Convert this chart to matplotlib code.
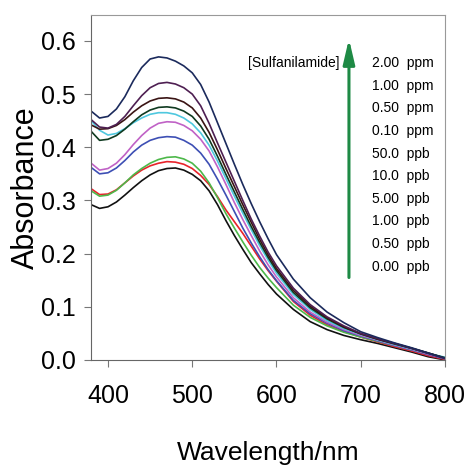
#absorbance spectra of sulfanilamide series

#libraries
import numpy as np
import matplotlib
matplotlib.use('Agg')
from matplotlib import pyplot as plt

#####################################data
wavelength = [380, 390, 400, 410, 420, 430, 440, 450, 460, 470, 480, 490, 500,
              510, 520, 530, 540, 550, 560, 570, 580, 590, 600,
              620, 640, 660, 680, 700, 720, 740, 760, 780, 800]

labels = ['0.00  ppb', '0.50  ppb', '1.00  ppb', '5.00  ppb', '10.0  ppb',
          '50.0  ppb', '0.10  ppm', '0.50  ppm', '1.00  ppm', '2.00  ppm']

abs_000ppb = [0.292, 0.285, 0.288, 0.297, 0.310, 0.324, 0.337, 0.348, 0.356, 0.360, 0.361, 0.357, 0.349,
              0.337, 0.318, 0.292, 0.262, 0.234, 0.208, 0.183, 0.162, 0.142, 0.124,
              0.095, 0.072, 0.057, 0.046, 0.038, 0.031, 0.023, 0.015, 0.006, 0.000]
abs_050ppb = [0.322, 0.311, 0.312, 0.320, 0.333, 0.346, 0.357, 0.365, 0.370, 0.373, 0.372, 0.368, 0.360,
              0.347, 0.330, 0.307, 0.282, 0.260, 0.238, 0.214, 0.190, 0.168, 0.148,
              0.110, 0.084, 0.066, 0.053, 0.043, 0.034, 0.025, 0.017, 0.008, 0.001]
abs_100ppb = [0.318, 0.308, 0.310, 0.319, 0.333, 0.348, 0.360, 0.370, 0.377, 0.381, 0.382, 0.378, 0.370,
              0.355, 0.333, 0.305, 0.275, 0.248, 0.222, 0.197, 0.174, 0.154, 0.136,
              0.103, 0.080, 0.064, 0.052, 0.043, 0.035, 0.027, 0.019, 0.011, 0.004]
abs_500ppb = [0.362, 0.350, 0.352, 0.361, 0.375, 0.391, 0.404, 0.413, 0.418, 0.420, 0.419, 0.413, 0.404,
              0.389, 0.368, 0.340, 0.310, 0.279, 0.248, 0.220, 0.194, 0.170, 0.149,
              0.112, 0.087, 0.069, 0.055, 0.045, 0.036, 0.027, 0.019, 0.010, 0.002]
abs_10ppb = [0.370, 0.357, 0.360, 0.370, 0.386, 0.405, 0.422, 0.436, 0.445, 0.448, 0.447, 0.441, 0.431,
             0.415, 0.393, 0.363, 0.330, 0.296, 0.264, 0.234, 0.205, 0.179, 0.156,
             0.117, 0.090, 0.071, 0.057, 0.046, 0.037, 0.028, 0.020, 0.011, 0.003]
abs_50ppb = [0.450, 0.432, 0.423, 0.426, 0.435, 0.446, 0.455, 0.462, 0.465, 0.465, 0.462, 0.455, 0.444,
             0.427, 0.404, 0.374, 0.341, 0.308, 0.276, 0.245, 0.215, 0.188, 0.163,
             0.123, 0.095, 0.074, 0.059, 0.048, 0.038, 0.029, 0.021, 0.012, 0.005]
abs_010ppm = [0.430, 0.413, 0.415, 0.422, 0.434, 0.448, 0.461, 0.470, 0.475, 0.476, 0.474, 0.468, 0.458,
              0.440, 0.415, 0.383, 0.349, 0.316, 0.283, 0.251, 0.221, 0.193, 0.168,
              0.127, 0.098, 0.077, 0.061, 0.049, 0.039, 0.030, 0.022, 0.013, 0.004]
abs_050ppm = [0.442, 0.434, 0.435, 0.441, 0.452, 0.466, 0.478, 0.487, 0.492, 0.493, 0.491, 0.485, 0.474,
              0.455, 0.428, 0.395, 0.360, 0.326, 0.292, 0.259, 0.227, 0.198, 0.172,
              0.131, 0.101, 0.079, 0.062, 0.049, 0.039, 0.031, 0.022, 0.013, 0.003]
abs_100ppm = [0.452, 0.438, 0.436, 0.443, 0.458, 0.478, 0.497, 0.512, 0.520, 0.522, 0.519, 0.512, 0.500,
              0.478, 0.445, 0.408, 0.372, 0.336, 0.300, 0.265, 0.233, 0.203, 0.177,
              0.135, 0.104, 0.081, 0.064, 0.050, 0.040, 0.031, 0.022, 0.012, 0.003]
abs_200ppm = [0.468, 0.455, 0.458, 0.472, 0.495, 0.525, 0.550, 0.566, 0.570, 0.568, 0.562, 0.553, 0.540,
              0.518, 0.485, 0.446, 0.407, 0.368, 0.330, 0.294, 0.260, 0.228, 0.198,
              0.152, 0.117, 0.090, 0.070, 0.053, 0.042, 0.032, 0.023, 0.013, 0.003]

spectra = [abs_000ppb, abs_050ppb, abs_100ppb, abs_500ppb, abs_10ppb,
           abs_50ppb, abs_010ppm, abs_050ppm, abs_100ppm, abs_200ppm]
colors = ['#111111', '#e8232b', '#4db84a', '#3d4fb4', '#c062c6',
          '#4fc8df', '#0f3a20', '#3a1414', '#4e1f52', '#1b2a5c']

#####################################plot
font_main = ['Liberation Sans', 'DejaVu Sans']

fig = plt.figure(figsize=(4.65, 4.65), dpi=100)
ax = fig.add_axes([0.196, 0.226, 0.761, 0.742])

for y, c in zip(spectra, colors):
    ax.plot(wavelength, y, color=c, lw=1.2)

ax.set_xlim(380, 800)
ax.set_ylim(0, 0.649)
ax.set_xticks([400, 500, 600, 700, 800])
ax.set_yticks([0.0, 0.1, 0.2, 0.3, 0.4, 0.5, 0.6])
ax.set_yticklabels(['%.1f' % v for v in ax.get_yticks()])
for t in ax.get_xticklabels() + ax.get_yticklabels():
    t.set_family(font_main)
    t.set_fontsize(18)
ax.tick_params(axis='x', direction='out', length=5, pad=12, color='#777777')
ax.tick_params(axis='y', direction='out', length=5, pad=6, color='#777777')

ax.spines['left'].set_color('#666666')
ax.spines['bottom'].set_color('#666666')
ax.spines['top'].set_color('#999999')
ax.spines['right'].set_color('#999999')

ax.set_xlabel('Wavelength/nm', family=font_main, fontsize=19, labelpad=24)
ax.set_ylabel('Absorbance', family=font_main, fontsize=22, labelpad=0)

#concentration labels, top one is highest concentration
y0 = 0.558
step = 0.0425
for i, lab in enumerate(labels[::-1]):
    ax.text(713, y0 - i * step, lab, family=font_main, fontsize=10,
            ha='left', va='center')
ax.text(675, y0, '[Sulfanilamide]', family=font_main, fontsize=10,
        ha='right', va='center')
ax.annotate('', xy=(686, 0.604), xytext=(686, 0.155),
            arrowprops=dict(arrowstyle='-|>,head_length=1.5,head_width=0.35',
                            mutation_scale=10, color='#1e8a45', lw=2.2,
                            shrinkA=0, shrinkB=0))

plt.savefig('out.png', dpi=100)
